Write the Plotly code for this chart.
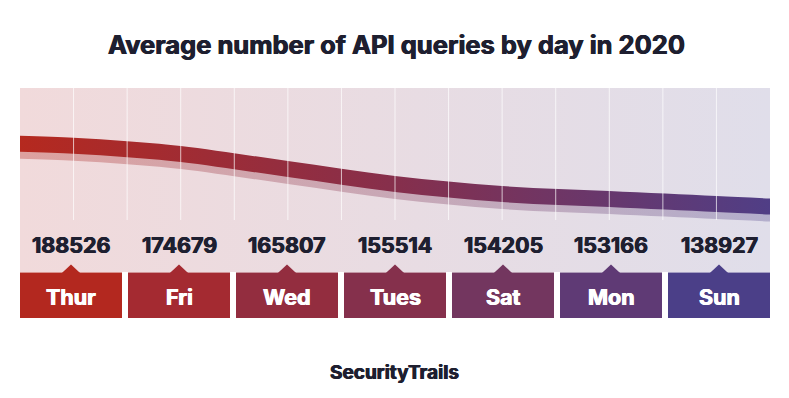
import plotly.graph_objects as go

# ---- data ----
days = ["Thur", "Fri", "Wed", "Tues", "Sat", "Mon", "Sun"]
queries = [188526, 174679, 165807, 155514, 154205, 153166, 138927]
# decorative trend ribbon (panel units, bottom = 0)
curve_x = [0, 0.5, 1.0, 1.5, 2.5, 3.5, 4.5, 5.5, 6.5, 7.0]
curve_level = [174.3, 172.2, 168.8, 164, 149, 134, 124, 119, 114, 111.5]

# ---- style ----
box_colors = ["#b3281f", "#a42a31", "#932d3f", "#85304c", "#73365f", "#5f3a75", "#4b3f88"]
dark = "#1e1f30"
FONT = "Inter"
W, H = 789, 398
OFF = 8  # page body margin
heavy_dark = f"0.45px 0 0 {dark}, -0.45px 0 0 {dark}"
heavy_white = "0.45px 0 0 white, -0.45px 0 0 white"

fig = go.Figure()

n = len(days)
# panel background with horizontal gradient
fig.add_trace(go.Scatter(
    x=[0, n, n, 0, 0], y=[46, 46, 230, 230, 46], mode="lines", line=dict(width=0),
    fill="toself", fillgradient=dict(type="horizontal", colorscale=[[0, "#f1dadb"], [1, "#e0deea"]]),
    hoverinfo="skip", showlegend=False))

half = 8
shift = 7
# shadow ribbon
fig.add_trace(go.Scatter(x=curve_x, y=[v - shift + half for v in curve_level], mode="lines",
                         line=dict(width=0, shape="spline"), hoverinfo="skip", showlegend=False))
fig.add_trace(go.Scatter(x=curve_x, y=[v - shift - half for v in curve_level], mode="lines",
                         line=dict(width=0, shape="spline"), fill="tonexty",
                         fillgradient=dict(type="horizontal", colorscale=[[0, "rgba(179,40,31,0.32)"], [1, "rgba(75,63,136,0.30)"]]),
                         hoverinfo="skip", showlegend=False))
# main ribbon
fig.add_trace(go.Scatter(x=curve_x, y=[v + half for v in curve_level], mode="lines",
                         line=dict(width=0, shape="spline"), hoverinfo="skip", showlegend=False))
fig.add_trace(go.Scatter(x=curve_x, y=[v - half for v in curve_level], mode="lines",
                         line=dict(width=0, shape="spline"), fill="tonexty",
                         fillgradient=dict(type="horizontal", colorscale=[[0, "#b5291f"], [0.5, "#862f4c"], [1, "#503e86"]]),
                         hoverinfo="skip", showlegend=False))

shapes = []
# grid lines
for k in range(1, 2 * n):
    shapes.append(dict(type="line", xref="x", yref="y", x0=k / 2, x1=k / 2, y0=98, y1=230,
                       line=dict(color="rgba(255,255,255,0.7)", width=1), layer="above"))

gap = 0.056
w = (n - (n - 1) * gap) / n
annotations = []
for i, (d, q) in enumerate(zip(days, queries)):
    x0 = i * (w + gap)
    x1 = x0 + w
    cx = (x0 + x1) / 2
    shapes.append(dict(type="rect", xref="x", yref="y", x0=x0, x1=x1, y0=0, y1=45.5,
                       fillcolor=box_colors[i], line=dict(width=0), layer="above"))
    tw = 0.085
    shapes.append(dict(type="path", xref="x", yref="y",
                       path=f"M {cx - tw},45 L {cx},53.5 L {cx + tw},45 Z",
                       fillcolor=box_colors[i], line=dict(width=0), layer="above"))
    annotations.append(dict(x=cx, y=73, xref="x", yref="y", text=str(q), showarrow=False,
                            font=dict(family=FONT, size=21.5, color=dark, weight=700, shadow=heavy_dark)))
    annotations.append(dict(x=cx, y=21, xref="x", yref="y", text=d, showarrow=False,
                            font=dict(family=FONT, size=21.5, color="white", weight=700, shadow=heavy_white)))

# plot area: viewport x 20..770, y 88..318
ml, mt = 20 - OFF, 88 - OFF
mr = W - (770 - OFF)
mb = H - (318 - OFF)
fig.update_layout(
    width=W, height=H,
    margin=dict(l=ml, r=mr, t=mt, b=mb),
    paper_bgcolor="white", plot_bgcolor="white",
    xaxis=dict(range=[0, n], visible=False, fixedrange=True),
    yaxis=dict(range=[0, 230], visible=False, fixedrange=True),
    shapes=shapes,
    annotations=annotations,
    title=dict(text="Average number of API queries by day in 2020", x=(396.5 - OFF) / W, xanchor="center",
               y=1 - (45 - OFF) / H, yanchor="middle",
               font=dict(family=FONT, size=25.5, color=dark, weight=700, shadow=heavy_dark)),
    showlegend=False,
)
fig.add_annotation(x=(394.5 - OFF - ml) / (W - ml - mr), xref="paper",
                   y=-(372 - 318) / 230, yref="paper", yanchor="middle",
                   text="SecurityTrails", showarrow=False,
                   font=dict(family=FONT, size=19, color=dark, weight=700, shadow=heavy_dark))

fig.write_html("out.html")
